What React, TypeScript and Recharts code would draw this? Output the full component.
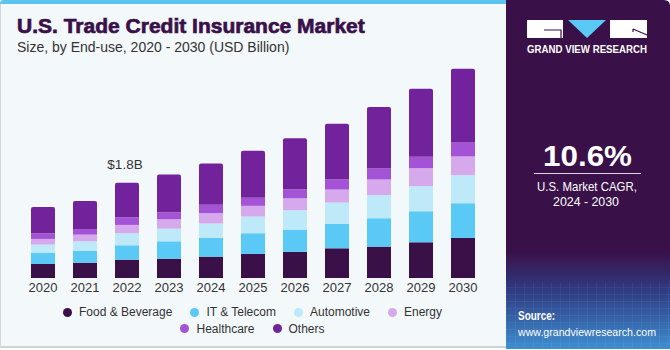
import { BarChart, Bar, XAxis, YAxis, LabelList } from 'recharts'

const years = ['2020', '2021', '2022', '2023', '2024', '2025', '2026', '2027', '2028', '2029', '2030']
const foodBeverage = [0.265, 0.29, 0.347, 0.366, 0.404, 0.455, 0.493, 0.562, 0.594, 0.676, 0.758]
const itTelecom = [0.215, 0.227, 0.272, 0.328, 0.354, 0.392, 0.423, 0.461, 0.537, 0.587, 0.657]
const automotive = [0.152, 0.177, 0.227, 0.24, 0.272, 0.316, 0.366, 0.404, 0.436, 0.474, 0.531]
const energy = [0.107, 0.126, 0.158, 0.177, 0.196, 0.202, 0.227, 0.246, 0.297, 0.341, 0.354]
const healthcare = [0.101, 0.107, 0.139, 0.126, 0.158, 0.152, 0.164, 0.19, 0.208, 0.215, 0.265]
const others = [0.505, 0.531, 0.657, 0.72, 0.783, 0.891, 0.973, 1.055, 1.162, 1.288, 1.396]

const series = [
  { key: 'food', name: 'Food & Beverage', color: '#3A1049', values: foodBeverage },
  { key: 'it', name: 'IT & Telecom', color: '#5BC9F5', values: itTelecom },
  { key: 'auto', name: 'Automotive', color: '#BDE9F8', values: automotive },
  { key: 'energy', name: 'Energy', color: '#D5A9EC', values: energy },
  { key: 'health', name: 'Healthcare', color: '#A553D6', values: healthcare },
  { key: 'others', name: 'Others', color: '#72229B', values: others },
]

const data = years.map((year, i) => {
  const row: Record<string, string | number> = { year }
  series.forEach((s) => {
    row[s.key] = s.values[i]
  })
  return row
})

const font = '"Liberation Sans", Arial, sans-serif'

const renderTotal = (props: any) => {
  const { x, y, width, index } = props
  if (index !== 2) return null
  return (
    <text x={x + width / 2 - 2} y={y - 14} textAnchor="middle" fontSize={13.5} fill="#333" fontFamily={font}>
      $1.8B
    </text>
  )
}

function LegendItem({ name, color }: { name: string; color: string }) {
  return (
    <span style={{ display: 'inline-flex', alignItems: 'center', margin: '0 9px' }}>
      <span style={{ width: 9, height: 9, borderRadius: '50%', background: color, marginRight: 7 }} />
      <span>{name}</span>
    </span>
  )
}

export default function App() {
  return (
    <div style={{ position: 'absolute', left: 0, top: 0, width: 670, height: 350, fontFamily: font, overflow: 'hidden', background: '#fff' }}>
      {/* left card */}
      <div style={{ position: 'absolute', left: 0, top: 0, width: 510, height: 348, background: '#F3F8FB', borderLeft: '1px solid #d4d8dc', borderBottom: '2px solid #cfd3d6', borderTopLeftRadius: 4, boxSizing: 'border-box' }} />
      <div style={{ position: 'absolute', left: 0, top: 0, width: 510, height: 4, background: '#5BC5F0', borderTopLeftRadius: 4 }} />
      <div style={{ position: 'absolute', left: 17, top: 14, fontSize: 21, fontWeight: 700, color: '#3A1049', WebkitTextStroke: '0.7px #3A1049', whiteSpace: 'nowrap' }}>
        U.S. Trade Credit Insurance Market
      </div>
      <div style={{ position: 'absolute', left: 17, top: 39, fontSize: 14, color: '#333', whiteSpace: 'nowrap' }}>
        Size, by End-use, 2020 - 2030 (USD Billion)
      </div>

      <div style={{ position: 'absolute', left: 0, top: 0 }}>
        <BarChart width={505} height={350} data={data} margin={{ top: 56, right: 21, bottom: 42, left: 22 }}>
          <XAxis
            dataKey="year"
            height={30}
            axisLine={false}
            tickLine={false}
            tickSize={0}
            tickMargin={5}
            interval={0}
            tick={{ fill: '#333', fontSize: 13, fontFamily: font }}
          />
          <YAxis hide domain={[0, 4.2]} />
          {series.map((s) => (
            <Bar
              key={s.key}
              dataKey={s.key}
              name={s.name}
              stackId="a"
              fill={s.color}
              barSize={24}
              isAnimationActive={false}
              radius={s.key === 'others' ? [2, 2, 0, 0] : 0}
            >
              {s.key === 'others' && <LabelList dataKey="others" content={renderTotal} />}
            </Bar>
          ))}
        </BarChart>
      </div>

      {/* legend */}
      <div style={{ position: 'absolute', left: 0, top: 304, width: 505, textAlign: 'center', fontSize: 12, color: '#333', lineHeight: '16px' }}>
        <div>
          {series.slice(0, 4).map((s) => (
            <LegendItem key={s.key} name={s.name} color={s.color} />
          ))}
        </div>
        <div>
          {series.slice(4).map((s) => (
            <LegendItem key={s.key} name={s.name} color={s.color} />
          ))}
        </div>
      </div>

      {/* right panel */}
      <svg style={{ position: 'absolute', left: 506, top: 0 }} width={164} height={349}>
        <defs>
          <linearGradient id="panelGrad" x1="0" y1="0" x2="0" y2="1">
            <stop offset="0%" stopColor="#3A1049" />
            <stop offset="72%" stopColor="#3A1049" />
            <stop offset="84%" stopColor="#2F3E86" />
            <stop offset="100%" stopColor="#3E8FD2" />
          </linearGradient>
          <pattern id="grid" width="9" height="7" patternUnits="userSpaceOnUse">
            <path d="M 9 0 L 0 0 0 7" fill="none" stroke="#ffffff" strokeOpacity={0.12} strokeWidth={0.7} />
          </pattern>
        </defs>
        <path d="M0 0 H158 Q164 0 164 6 V349 H0 Z" fill="url(#panelGrad)" />
        <rect x={0} y={282} width={164} height={67} fill="url(#grid)" />
        {/* logo */}
        <rect x={21} y={20} width={36} height={18} fill="#fff" />
        <path d="M38 30 H55 V38" fill="none" stroke="#3A1049" strokeWidth={1.2} />
        <path d="M62 20 H100 L81 38 Z" fill="#5BC9F5" />
        <rect x={104} y={20} width={37} height={18} fill="#fff" />
        <path d="M127 29 V32 M127 29 L141 35" fill="none" stroke="#3A1049" strokeWidth={1.2} />
        <text x={21} y={53} fontSize={10} fontWeight={700} fill="#fff" fontFamily={font} textLength={120} lengthAdjust="spacingAndGlyphs">
          GRAND VIEW RESEARCH
        </text>
        <text x={37} y={166} fontSize={30} fontWeight={700} fill="#fff" fontFamily={font} textLength={89} lengthAdjust="spacingAndGlyphs">
          10.6%
        </text>
        <line x1={28} x2={135} y1={173.5} y2={173.5} stroke="#d9d2df" strokeWidth={1.2} />
        <text x={31} y={191} fontSize={13.5} fill="#fff" fontFamily={font} textLength={100} lengthAdjust="spacingAndGlyphs">
          U.S. Market CAGR,
        </text>
        <text x={47} y={206} fontSize={13.5} fill="#fff" fontFamily={font} textLength={66} lengthAdjust="spacingAndGlyphs">
          2024 - 2030
        </text>
        <text x={12} y={320} fontSize={13} fontWeight={700} fill="#fff" fontFamily={font} textLength={37} lengthAdjust="spacingAndGlyphs">
          Source:
        </text>
        <text x={12} y={336} fontSize={11.5} fill="#fff" fontFamily={font} textLength={138} lengthAdjust="spacingAndGlyphs">
          www.grandviewresearch.com
        </text>
      </svg>
    </div>
  )
}
